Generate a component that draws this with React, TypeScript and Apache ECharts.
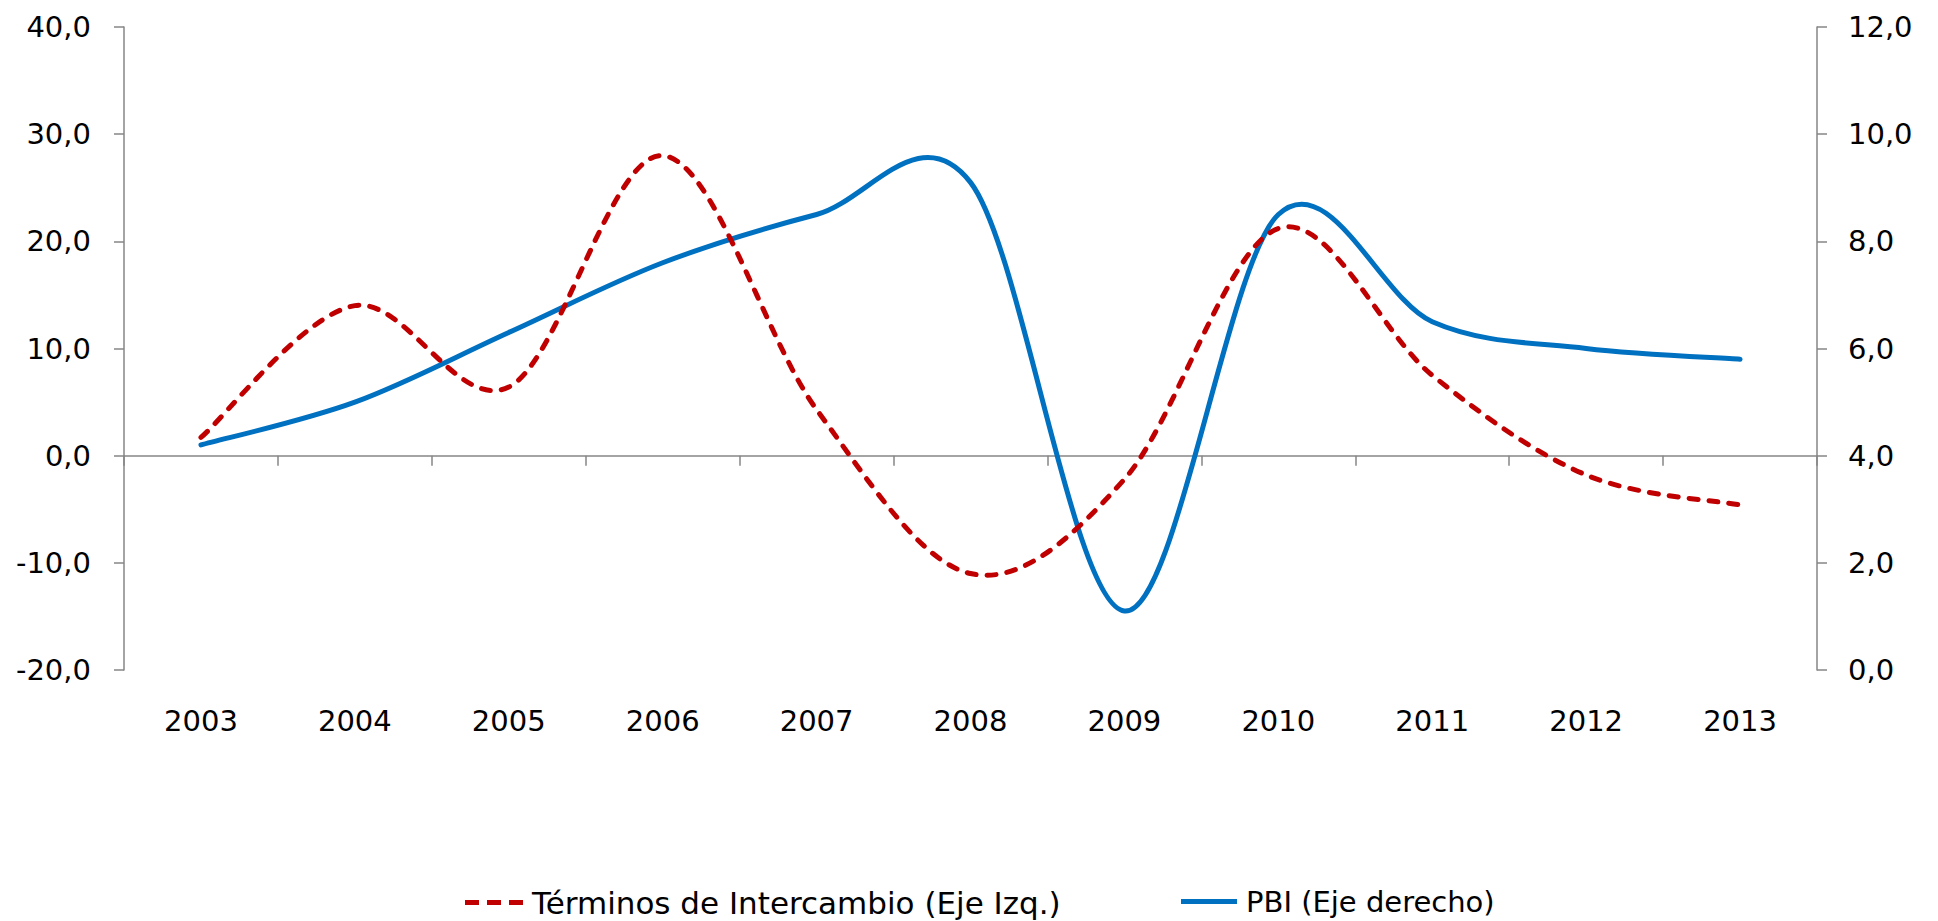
import React, { useEffect, useRef } from 'react';
import * as echarts from 'echarts';

const YEARS = ['2003', '2004', '2005', '2006', '2007', '2008', '2009', '2010', '2011', '2012', '2013'];
const TERMINOS = [1.7, 14.0, 6.4, 28.0, 4.3, -11.0, -2.2, 21.2, 7.5, -1.8, -4.6];
const PBI = [4.2, 5.0, 6.3, 7.6, 8.5, 9.1, 1.1, 8.5, 6.5, 6.0, 5.8];

const LEFT_MIN = -20;
const LEFT_MAX = 40;
const LEFT_STEP = 10;
const RIGHT_MIN = 0;
const RIGHT_MAX = 12;
const RIGHT_STEP = 2;

const NAME_TI = 'Términos de Intercambio (Eje Izq.)';
const NAME_PBI = 'PBI (Eje derecho)';

const RED = '#C00000';
const BLUE = '#0070C0';
const GRAY = '#868686';
const FONT = 'DejaVu Sans';

function smoothPath(pts: number[][]): string {
  let d = `M${pts[0][0]},${pts[0][1]}`;
  for (let i = 0; i < pts.length - 1; i++) {
    const p0 = pts[i - 1] || pts[i];
    const p1 = pts[i];
    const p2 = pts[i + 1];
    const p3 = pts[i + 2] || p2;
    const c1x = p1[0] + (p2[0] - p0[0]) / 6;
    const c1y = p1[1] + (p2[1] - p0[1]) / 6;
    const c2x = p2[0] - (p3[0] - p1[0]) / 6;
    const c2y = p2[1] - (p3[1] - p1[1]) / 6;
    d += ` C${c1x},${c1y} ${c2x},${c2y} ${p2[0]},${p2[1]}`;
  }
  return d;
}

function makeRender(values: number[], color: string, dash: number[] | null) {
  return (params: any, api: any) => {
    if (params.dataIndex !== 0) return null;
    const pts = values.map((v, i) => api.coord([i, v]));
    return {
      type: 'path',
      shape: { pathData: smoothPath(pts) },
      style: {
        fill: 'none',
        stroke: color,
        lineWidth: 5,
        lineDash: dash || undefined,
        lineCap: 'round',
        lineJoin: 'round',
      },
    };
  };
}

const fmt = (v: number) => v.toFixed(1).replace('.', ',');

export default function App() {
  const ref = useRef<HTMLDivElement>(null);
  useEffect(() => {
    if (!ref.current) return;
    const chart = echarts.init(ref.current, null, { renderer: 'svg' });
    const legendBase = {
      top: 882,
      itemWidth: 58,
      itemHeight: 5,
      selectedMode: false,
      textStyle: { fontSize: 31, fontFamily: FONT, color: '#000', padding: [0, 0, 0, 4] },
    };
    chart.setOption({
      animation: false,
      backgroundColor: '#fff',
      grid: { left: 124, right: 121, top: 27, bottom: 251, outerBoundsMode: 'none', containLabel: false },
      legend: [
        {
          ...legendBase,
          left: 460,
          data: [
            {
              name: NAME_TI,
              icon: 'path://M0,0h14v5h-14z M22,0h14v5h-14z M44,0h14v5h-14z',
              itemStyle: { color: RED },
            },
          ],
        },
        {
          ...legendBase,
          left: 1176,
          itemWidth: 56,
          textStyle: { fontSize: 29, fontFamily: FONT, color: '#000', padding: [0, 0, 0, 4] },
          data: [
            {
              name: NAME_PBI,
              icon: 'path://M0,0h56v5h-56z',
              itemStyle: { color: BLUE },
            },
          ],
        },
      ],
      xAxis: {
        type: 'category',
        data: YEARS,
        boundaryGap: true,
        axisLine: { onZero: true, onZeroAxisIndex: 0, lineStyle: { color: GRAY, width: 1.5 } },
        axisTick: { show: true, length: 10, lineStyle: { color: GRAY, width: 1.5 } },
        axisLabel: { margin: 36, fontSize: 29, fontFamily: FONT, color: '#000' },
        splitLine: { show: false },
      },
      yAxis: [
        {
          type: 'value',
          min: LEFT_MIN,
          max: LEFT_MAX,
          interval: LEFT_STEP,
          position: 'left',
          axisLine: { show: true, lineStyle: { color: GRAY, width: 1.5 } },
          axisTick: { show: true, length: 10, lineStyle: { color: GRAY, width: 1.5 } },
          axisLabel: { margin: 33, fontSize: 29, fontFamily: FONT, color: '#000', formatter: fmt },
          splitLine: { show: false },
        },
        {
          type: 'value',
          min: RIGHT_MIN,
          max: RIGHT_MAX,
          interval: RIGHT_STEP,
          position: 'right',
          axisLine: { show: true, lineStyle: { color: GRAY, width: 1.5 } },
          axisTick: { show: true, length: 10, lineStyle: { color: GRAY, width: 1.5 } },
          axisLabel: { margin: 31, fontSize: 29, fontFamily: FONT, color: '#000', formatter: fmt },
          splitLine: { show: false },
        },
      ],
      series: [
        {
          name: NAME_PBI,
          type: 'custom',
          yAxisIndex: 1,
          z: 2,
          clip: false,
          itemStyle: { color: BLUE },
          encode: { x: 0, y: 1 },
          data: PBI.map((v, i) => [i, v]),
          renderItem: makeRender(PBI, BLUE, null),
        },
        {
          name: NAME_TI,
          type: 'custom',
          yAxisIndex: 0,
          z: 3,
          clip: false,
          itemStyle: { color: RED },
          encode: { x: 0, y: 1 },
          data: TERMINOS.map((v, i) => [i, v]),
          renderItem: makeRender(TERMINOS, RED, [9, 11]),
        },
      ],
    });
    return () => chart.dispose();
  }, []);
  return (
    <div
      ref={ref}
      style={{ position: 'fixed', left: 0, top: 0, width: 1938, height: 921, background: '#fff' }}
    />
  );
}
